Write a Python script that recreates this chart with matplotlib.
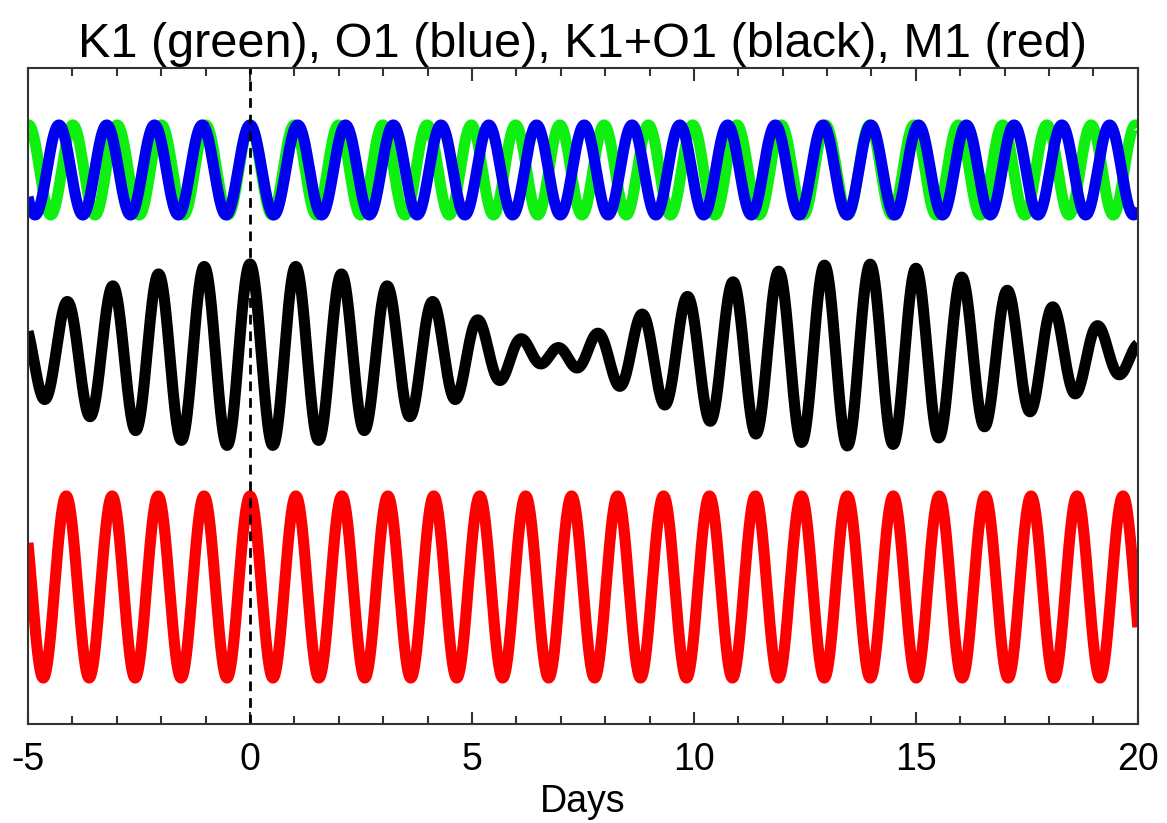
import numpy as np
import matplotlib
matplotlib.use("Agg")
import matplotlib.pyplot as plt
from matplotlib.ticker import MultipleLocator

plt.rcParams['font.family'] = ['Liberation Sans', 'DejaVu Sans']

# constituent periods in hours (peak spacing / beat)
names = ['K1', 'O1', 'M1']
periods_h = [23.934, 25.819, 24.841]
colors = ['#10f010', '#0000f0', '#ff0000']

# display offsets / amplitudes (chart units, vertical stacking)
top_center, top_amp = 554, 45
sum_center, k1_amp, o1_amp = 369, 49, 42
m1_center, m1_amp = 137, 91

xticks = [-5, 0, 5, 10, 15, 20]

t = np.linspace(-5, 20, 4000)

def wave(period_h):
    return np.cos(2 * np.pi * t * 24.0 / period_h)

k1 = wave(periods_h[0])
o1 = wave(periods_h[1])
m1 = wave(periods_h[2])

fig = plt.figure(figsize=(11.67, 8.23), dpi=100)
ax = fig.add_axes([0.024, 0.1203, 0.951, 0.7971])

lw = 8
ax.plot(t, top_center + top_amp * k1, color=colors[0], lw=lw, solid_capstyle='butt')
ax.plot(t, top_center + top_amp * o1, color=colors[1], lw=lw, solid_capstyle='butt')
ax.plot(t, sum_center + k1_amp * k1 + o1_amp * o1, color='black', lw=lw, solid_capstyle='butt')
ax.plot(t, m1_center + m1_amp * m1, color=colors[2], lw=lw, solid_capstyle='butt')
ax.axvline(0, color='black', lw=2, ls=(0, (3.5, 2.5)))

ax.set_xlim(-5, 20)
ax.set_ylim(0, 656)
ax.set_yticks([])
ax.set_xticks(xticks)
ax.set_xticklabels([str(v) for v in xticks])
ax.xaxis.set_minor_locator(MultipleLocator(1))
ax.tick_params(axis='x', which='both', direction='in', top=True, bottom=True,
               labelsize=27, pad=13, color='#333333')
ax.tick_params(axis='x', which='major', length=9, width=1.5)
ax.tick_params(axis='x', which='minor', length=6, width=1.5)
for s in ax.spines.values():
    s.set_color('#333333')
    s.set_linewidth(1.5)

ax.set_title('K1 (green), O1 (blue), K1+O1 (black), M1 (red)', fontsize=35, pad=8)
ax.set_xlabel('Days', fontsize=27, labelpad=4)

fig.savefig('out.png', dpi=100)
